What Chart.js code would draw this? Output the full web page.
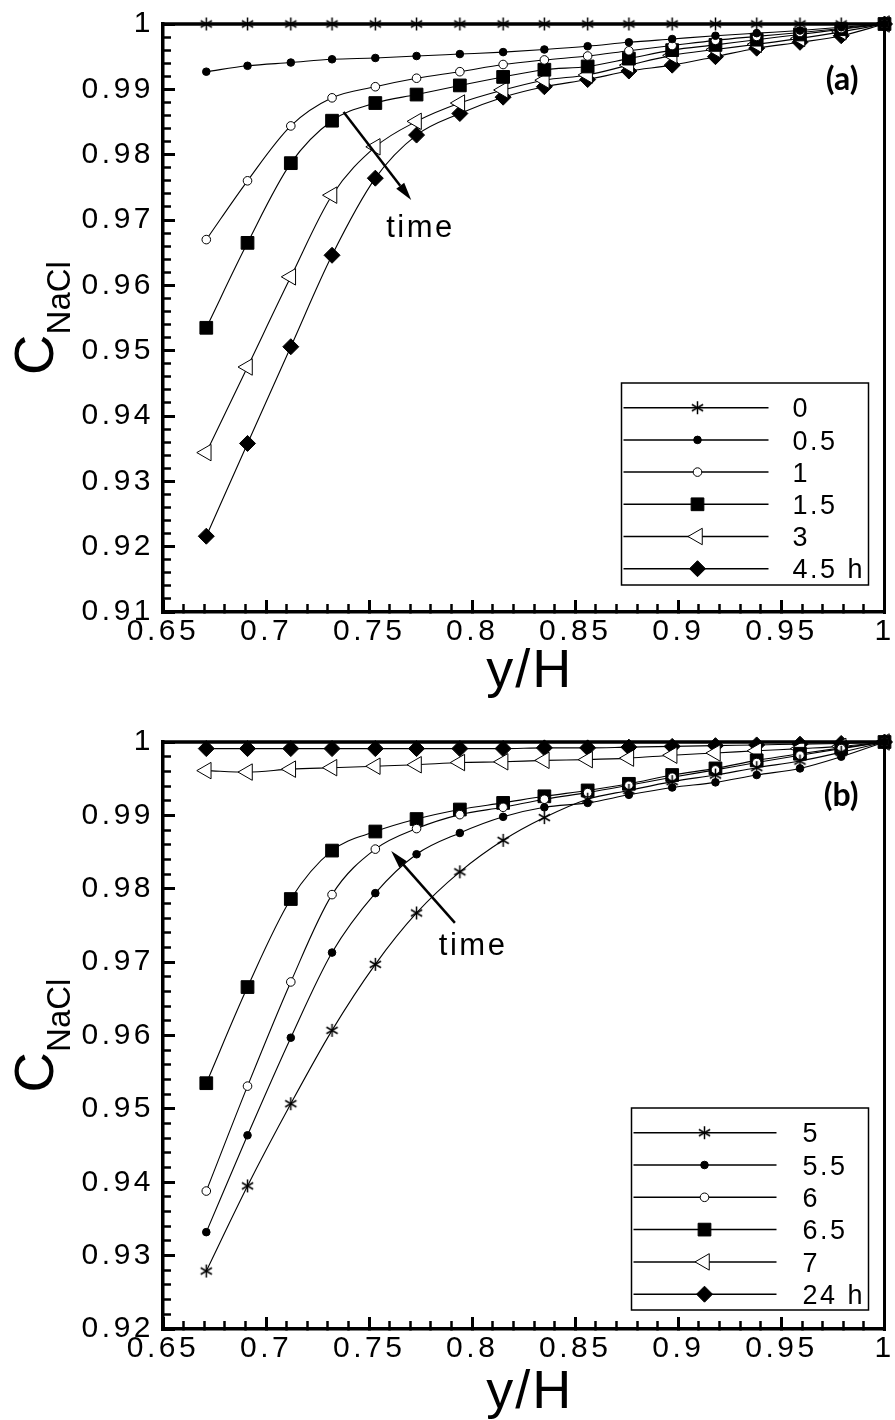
<!DOCTYPE html>
<html><head><meta charset="utf-8">
<script src="https://cdn.jsdelivr.net/npm/chart.js@4/dist/chart.umd.min.js"></script>
<style>
html,body{margin:0;padding:0;background:#fff;}
#wrapA{position:absolute;left:0;top:0;width:895px;height:700px;}
#wrapB{position:absolute;left:0;top:700px;width:895px;height:720px;}
</style></head><body>
<div id="wrapA"><canvas id="cA" width="895" height="700"></canvas></div>
<div id="wrapB"><canvas id="cB" width="895" height="720"></canvas></div>
<script>
// ---------- data ----------
const xValues = [0.671, 0.691, 0.712, 0.732, 0.753, 0.773, 0.794, 0.815, 0.835, 0.856, 0.876, 0.897, 0.918, 0.938, 0.959, 0.979, 1.0];

const labelsA = ['0', '0.5', '1', '1.5', '3', '4.5 h'];
const a_t0   = [1,1,1,1,1,1,1,1,1,1,1,1,1,1,1,1,1];
const a_t05  = [0.9927,0.9936,0.9941,0.9946,0.9948,0.9951,0.9954,0.9957,0.9961,0.9966,0.9972,0.9977,0.9982,0.9986,0.9990,0.9995,1.0];
const a_t1   = [0.9670,0.9760,0.9844,0.9887,0.9904,0.9917,0.9927,0.9938,0.9945,0.9951,0.9959,0.9967,0.9975,0.9981,0.9987,0.9993,1.0];
const a_t15  = [0.9535,0.9665,0.9787,0.9852,0.9879,0.9892,0.9906,0.9919,0.9930,0.9935,0.9947,0.9960,0.9968,0.9976,0.9984,0.9992,1.0];
const a_t3   = [0.9344,0.9475,0.9613,0.9738,0.9812,0.9851,0.9879,0.9899,0.9914,0.9922,0.9937,0.9952,0.9961,0.9969,0.9978,0.9988,1.0];
const a_t45  = [0.9216,0.9358,0.9506,0.9646,0.9764,0.9830,0.9863,0.9888,0.9904,0.9915,0.9928,0.9937,0.9950,0.9963,0.9972,0.9982,1.0];

const labelsB = ['5', '5.5', '6', '6.5', '7', '24 h'];
const b_t5   = [0.9279,0.9395,0.9507,0.9607,0.9697,0.9767,0.9823,0.9866,0.9897,0.9922,0.9934,0.9946,0.9955,0.9965,0.9974,0.9986,1.0];
const b_t55  = [0.9332,0.9464,0.9597,0.9713,0.9794,0.9847,0.9876,0.9898,0.9911,0.9917,0.9928,0.9938,0.9945,0.9955,0.9964,0.9980,1.0];
const b_t6   = [0.9388,0.9531,0.9673,0.9792,0.9854,0.9882,0.9901,0.9911,0.9922,0.9931,0.9941,0.9952,0.9962,0.9972,0.9982,0.9991,1.0];
const b_t65  = [0.9535,0.9666,0.9786,0.9852,0.9878,0.9895,0.9908,0.9917,0.9926,0.9934,0.9943,0.9955,0.9964,0.9975,0.9984,0.9992,1.0];
const b_t7   = [0.9961,0.9959,0.9963,0.9965,0.9967,0.9969,0.9972,0.9973,0.9975,0.9976,0.9978,0.9982,0.9985,0.9988,0.9991,0.9994,1.0];
const b_t24  = [0.9991,0.9991,0.9991,0.9991,0.9991,0.9991,0.9991,0.9991,0.9992,0.9992,0.9993,0.9994,0.9995,0.9996,0.9997,0.9998,1.0];

const xTickValues = [0.65, 0.7, 0.75, 0.8, 0.85, 0.9, 0.95, 1.0];
const xTickLabels = ['0.65', '0.7', '0.75', '0.8', '0.85', '0.9', '0.95', '1'];
const yTickValuesA = [0.91, 0.92, 0.93, 0.94, 0.95, 0.96, 0.97, 0.98, 0.99, 1.0];
const yTickLabelsA = ['0.91', '0.92', '0.93', '0.94', '0.95', '0.96', '0.97', '0.98', '0.99', '1'];
const yTickValuesB = [0.92, 0.93, 0.94, 0.95, 0.96, 0.97, 0.98, 0.99, 1.0];
const yTickLabelsB = ['0.92', '0.93', '0.94', '0.95', '0.96', '0.97', '0.98', '0.99', '1'];
const xMinorStep = 0.01;
const yMinorStep = 0.002;

// ---------- styles ----------
const FONT = '"Liberation Sans", Arial, sans-serif';
function makeAsterisk() {
  const c = document.createElement('canvas');
  c.width = 15; c.height = 15;
  const g = c.getContext('2d');
  g.strokeStyle = '#000'; g.lineWidth = 1.5;
  const r = 6.5;
  for (let k = 0; k < 3; k++) {
    const a = Math.PI / 2 + k * Math.PI / 3;
    g.beginPath();
    g.moveTo(7.5 + r * Math.cos(a), 7.5 + r * Math.sin(a));
    g.lineTo(7.5 - r * Math.cos(a), 7.5 - r * Math.sin(a));
    g.stroke();
  }
  return c;
}
const asterisk = makeAsterisk();
const markerStyles = [
  {pointStyle: asterisk, pointRadius: 7, pointBackgroundColor: '#000', pointRotation: 0},
  {pointStyle: 'circle', pointRadius: 3.8, pointBackgroundColor: '#000', pointRotation: 0},
  {pointStyle: 'circle', pointRadius: 4.3, pointBackgroundColor: '#fff', pointRotation: 0},
  {pointStyle: 'rect', pointRadius: 9, pointBackgroundColor: '#000', pointRotation: 0},
  {pointStyle: 'triangle', pointRadius: 9.5, pointBackgroundColor: '#fff', pointRotation: -90},
  {pointStyle: 'rectRot', pointRadius: 8, pointBackgroundColor: '#000', pointRotation: 0}
];

function makeDatasets(labels, series) {
  return series.map((arr, i) => Object.assign({
    label: labels[i],
    data: xValues.map((x, j) => ({x: x, y: arr[j]})),
    borderColor: '#000', borderWidth: 1.1,
    pointBorderColor: '#000', pointBorderWidth: 1,
    cubicInterpolationMode: 'monotone',
    fill: false, clip: false
  }, markerStyles[i]));
}

// tick helpers: all minor positions, labels only on the major values
function tickList(min, max, step) {
  const n = Math.round((max - min) / step);
  const out = [];
  for (let k = 0; k <= n; k++) out.push(+(min + k * step).toFixed(6));
  return out;
}
function majorIndex(values, v) {
  for (let j = 0; j < values.length; j++) if (Math.abs(values[j] - v) < 1e-7) return j;
  return -1;
}
// Chart.js draws bottom-axis ticks from the axis inward, left-axis ticks from the inner end to the axis,
// so minor ticks are shortened with a dash pattern that starts at the proper end.
function gridFor(values, isX) {
  const isMajor = c => majorIndex(values, c.tick ? c.tick.value : NaN) >= 0;
  return {
    display: true, drawOnChartArea: false, drawTicks: true,
    tickLength: -12, tickColor: '#000',
    tickWidth: c => isMajor(c) ? 3 : 2.5,
    tickBorderDash: c => isMajor(c) ? [] : (isX ? [9.5, 100] : [40, 4]),
    tickBorderDashOffset: c => isMajor(c) ? 0 : (isX ? 0 : 40)
  };
}

// ---------- plugin: top/right frame, titles, annotations, legend ----------
function panelPlugin(cfg) {
  return {
    id: 'panel' + cfg.tag,
    beforeDraw(chart) { chart.ctx.letterSpacing = '3.5px'; },
    afterDatasetsDraw(chart) {
      const ctx = chart.ctx, ca = chart.chartArea;
      ctx.save();
      ctx.fillStyle = '#000';
      ctx.fillRect(ca.left - 2, ca.top - 1.75, ca.right - ca.left + 4, 3.5);   // top
      ctx.fillRect(ca.right - 1.5, ca.top - 2, 3, ca.bottom - ca.top + 4);     // right
      ctx.restore();
    },
    afterDraw(chart) {
      const ctx = chart.ctx, ca = chart.chartArea;
      const xs = chart.scales.x, ys = chart.scales.y;
      ctx.save();
      ctx.fillStyle = '#000'; ctx.strokeStyle = '#000';
      // x title
      ctx.font = '54px ' + FONT;
      ctx.letterSpacing = '2px';
      ctx.textAlign = 'center'; ctx.textBaseline = 'alphabetic';
      ctx.fillText('y/H', (ca.left + ca.right) / 2 + 6, ca.bottom + cfg.xTitleOff);
      // y title C_NaCl
      ctx.save();
      const yc = (ca.top + ca.bottom) / 2;
      ctx.translate(53, yc);
      ctx.rotate(-Math.PI / 2);
      ctx.letterSpacing = '0px';
      ctx.font = '56px ' + FONT;
      const wC = ctx.measureText('C').width;
      ctx.font = '33px ' + FONT;
      const wN = ctx.measureText('NaCl').width;
      const start = -(wC + wN) / 2;
      ctx.textAlign = 'left';
      ctx.font = '56px ' + FONT;
      ctx.fillText('C', start, 0);
      ctx.font = '33px ' + FONT;
      ctx.fillText('NaCl', start + wC, 17);
      ctx.restore();
      // panel tag
      ctx.font = 'bold 32px Lato, "Open Sans", sans-serif';
      ctx.letterSpacing = '0px';
      ctx.textAlign = 'right'; ctx.textBaseline = 'alphabetic';
      ctx.fillText(cfg.tagText, ca.right - 26, ca.top + cfg.tagOff);
      // arrow + time
      const an = cfg.arrow;
      const x0 = xs.getPixelForValue(an.x0), y0 = ys.getPixelForValue(an.y0);
      const x1 = xs.getPixelForValue(an.x1), y1 = ys.getPixelForValue(an.y1);
      const ang = Math.atan2(y1 - y0, x1 - x0);
      const hl = 18, hw = 5;
      const bx = x1 - hl * Math.cos(ang), by = y1 - hl * Math.sin(ang);
      ctx.lineWidth = 2.5;
      ctx.beginPath(); ctx.moveTo(x0, y0); ctx.lineTo(bx, by); ctx.stroke();
      ctx.beginPath();
      ctx.moveTo(x1, y1);
      ctx.lineTo(bx + hw * Math.sin(ang), by - hw * Math.cos(ang));
      ctx.lineTo(bx - hw * Math.sin(ang), by + hw * Math.cos(ang));
      ctx.closePath(); ctx.fill();
      ctx.font = '31px ' + FONT;
      ctx.letterSpacing = '2.5px';
      ctx.textAlign = 'left';
      ctx.fillText('time', xs.getPixelForValue(an.tx), ys.getPixelForValue(an.ty));
      // legend
      const L = cfg.legend;
      const lx = ca.right - L.right - L.width, ly = ca.bottom - L.bottom - L.height;
      ctx.fillStyle = '#fff'; ctx.fillRect(lx, ly, L.width, L.height);
      ctx.lineWidth = 1.5; ctx.strokeStyle = '#000';
      ctx.strokeRect(lx, ly, L.width, L.height);
      ctx.font = '27px ' + FONT;
      chart.data.datasets.forEach((ds, i) => {
        const y = ly + L.first + i * L.step;
        ctx.strokeStyle = '#000'; ctx.lineWidth = 1.5;
        ctx.beginPath(); ctx.moveTo(lx + L.lineX0, y); ctx.lineTo(lx + L.lineX1, y); ctx.stroke();
        ctx.fillStyle = ds.pointBackgroundColor; ctx.lineWidth = ds.pointBorderWidth;
        Chart.helpers.drawPoint(ctx, {pointStyle: ds.pointStyle, radius: ds.pointRadius,
          rotation: ds.pointRotation || 0, borderWidth: ds.pointBorderWidth}, lx + L.markX, y);
        ctx.fillStyle = '#000';
        ctx.textAlign = 'left'; ctx.textBaseline = 'alphabetic';
        ctx.fillText(ds.label, lx + L.textX, y + 9.7);
      });
      ctx.restore();
    }
  };
}

function makeChart(canvasId, labels, series, yTicks, yLabels, cfg) {
  const yMin = yTicks[0], yMax = yTicks[yTicks.length - 1];
  return new Chart(document.getElementById(canvasId), {
    type: 'line',
    data: {datasets: makeDatasets(labels, series)},
    options: {
      responsive: false, animation: false,
      layout: {padding: {left: 0, right: 5, top: cfg.padTop, bottom: 0}},
      plugins: {legend: {display: false}, tooltip: {enabled: false}},
      scales: {
        x: {
          type: 'linear', min: xTickValues[0], max: xTickValues[xTickValues.length - 1],
          afterBuildTicks: s => { s.ticks = tickList(s.min, s.max, xMinorStep).map(v => ({value: v})); },
          afterFit: s => { s.height = cfg.xHeight; s.paddingLeft = 0; s.paddingRight = 0; },
          grid: gridFor(xTickValues, true),
          border: {display: true, color: '#000', width: 3.5},
          ticks: {autoSkip: false, maxRotation: 0, minRotation: 0, padding: cfg.xPad, color: '#000',
            font: {family: FONT, size: 30},
            callback: v => { const j = majorIndex(xTickValues, v); return j >= 0 ? xTickLabels[j] : ''; }}
        },
        y: {
          type: 'linear', min: yMin, max: yMax,
          afterBuildTicks: s => { s.ticks = tickList(s.min, s.max, yMinorStep).map(v => ({value: v})); },
          afterFit: s => { s.width = 163; s.paddingTop = 0; s.paddingBottom = 0; },
          grid: gridFor(yTicks, false),
          border: {display: true, color: '#000', width: 3.5},
          ticks: {autoSkip: false, padding: 21, color: '#000',
            font: {family: FONT, size: 30},
            callback: v => { const j = majorIndex(yTicks, v); return j >= 0 ? yLabels[j] : ''; }}
        }
      }
    },
    plugins: [panelPlugin(cfg)]
  });
}

makeChart('cA', labelsA, [a_t0, a_t05, a_t1, a_t15, a_t3, a_t45], yTickValuesA, yTickLabelsA, {
  tag: 'A', tagText: '(a)', padTop: 24, xHeight: 88, xPad: 14, xTitleOff: 75, tagOff: 66,
  arrow: {x0: 0.7376, y0: 0.98653, x1: 0.7704, y1: 0.97306, tx: 0.7583, ty: 0.9674},
  legend: {right: 16, bottom: 27, width: 247, height: 202, first: 24.7, step: 32.2, lineX0: 2, lineX1: 147, markX: 76, textX: 171}
});
makeChart('cB', labelsB, [b_t5, b_t55, b_t6, b_t65, b_t7, b_t24], yTickValuesB, yTickLabelsB, {
  tag: 'B', tagText: '(b)', padTop: 42, xHeight: 91, xPad: 14, xTitleOff: 79, tagOff: 64,
  arrow: {x0: 0.7916, y0: 0.97534, x1: 0.7607, y1: 0.98515, tx: 0.7838, ty: 0.9710},
  legend: {right: 16, bottom: 19, width: 237, height: 202, first: 24.7, step: 32.3, lineX0: 2, lineX1: 145, markX: 73, textX: 171}
});
</script>
</body></html>
